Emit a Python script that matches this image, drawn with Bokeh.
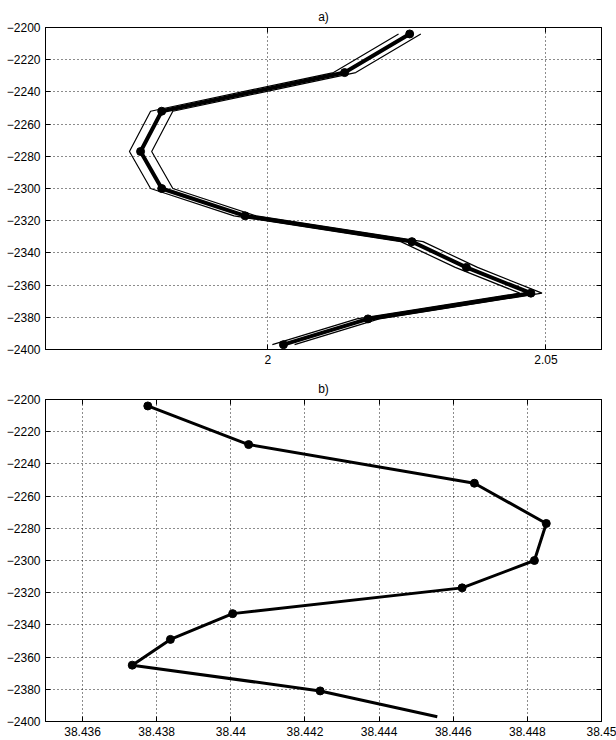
from bokeh.plotting import figure
from bokeh.layouts import column
from bokeh.models import FixedTicker, LinearAxis, Range1d
from bokeh.embed import file_html
from bokeh.resources import INLINE

# ---- data ----
depth = [-2204, -2228, -2252, -2277, -2300, -2317, -2333, -2349, -2365, -2381, -2397]
a_center = [2.0255, 2.0138, 1.9809, 1.9771, 1.9809, 1.9959, 2.0259, 2.0357, 2.0473, 2.0180, 2.0028]
a_left = [2.0235, 2.0118, 1.9789, 1.9751, 1.9789, 1.9939, 2.0239, 2.0337, 2.0453, 2.0160, 2.0008]
a_right = [2.0275, 2.0158, 1.9829, 1.9791, 1.9829, 1.9979, 2.0279, 2.0377, 2.0493, 2.0200, 2.0048]
b_lon = [38.43776, 38.44048, 38.44657, 38.44851, 38.44819, 38.44624, 38.44005, 38.43837, 38.43734, 38.44241, 38.44557]
b_marker_count = 10

a_xticks = [2.0, 2.05]
a_xlabels = ["2", "2.05"]
b_xticks = [38.436, 38.438, 38.44, 38.442, 38.444, 38.446, 38.448, 38.45]
b_xlabels = ["38.436", "38.438", "38.44", "38.442", "38.444", "38.446", "38.448", "38.45"]
yticks = [-2200, -2220, -2240, -2260, -2280, -2300, -2320, -2340, -2360, -2380, -2400]
ylabels = ["\u22122200", "\u22122220", "\u22122240", "\u22122260", "\u22122280", "\u22122300",
           "\u22122320", "\u22122340", "\u22122360", "\u22122380", "\u22122400"]

FONT = "Liberation Sans"


def box_axis(ticks):
    ax = LinearAxis(ticker=FixedTicker(ticks=ticks), major_tick_in=5, major_tick_out=0,
                    minor_tick_line_color=None, major_label_standoff=0,
                    axis_line_color="black", major_tick_line_color="black")
    ax.major_label_overrides = {t: "" for t in ticks}
    return ax


def make_fig(title, xr, xticks, xlabels, top_border, bottom_border, height):
    p = figure(width=616, height=height, output_backend="svg", toolbar_location=None,
               x_range=Range1d(*xr), y_range=Range1d(-2400, -2200),
               min_border_left=45, min_border_right=15,
               min_border_top=top_border, min_border_bottom=bottom_border)
    p.title.text = title
    p.title.align = "center"
    p.title.text_font = FONT
    p.title.text_font_size = "12px"
    p.title.text_font_style = "normal"
    p.title.text_color = "black"
    p.title.standoff = 8
    p.outline_line_color = "black"
    p.outline_line_width = 1
    p.background_fill_color = "white"
    p.border_fill_color = "white"

    p.xaxis.ticker = FixedTicker(ticks=xticks)
    p.xaxis.major_label_overrides = dict(zip(xticks, xlabels))
    p.yaxis.ticker = FixedTicker(ticks=yticks)
    p.yaxis.major_label_overrides = dict(zip(yticks, ylabels))
    for ax in (p.xaxis[0], p.yaxis[0]):
        ax.major_tick_in = 5
        ax.major_tick_out = 0
        ax.minor_tick_line_color = None
        ax.axis_line_color = "black"
        ax.major_tick_line_color = "black"
        ax.major_label_text_font = FONT
        ax.major_label_text_font_size = "12px"
        ax.major_label_text_color = "black"
        ax.major_label_standoff = 5

    p.add_layout(box_axis(xticks), "above")
    p.add_layout(box_axis(yticks), "right")

    for g in (p.xgrid[0], p.ygrid[0]):
        g.grid_line_color = "black"
        g.grid_line_dash = "1 3"
        g.grid_line_width = 1
        g.grid_line_alpha = 0.9
    return p


p1 = make_fig("a)", (1.96, 2.06), a_xticks, a_xlabels, 27, 23, 372)
p1.line(a_left, depth, line_color="black", line_width=1.2)
p1.line(a_right, depth, line_color="black", line_width=1.2)
p1.line(a_center, depth, line_color="black", line_width=4)
p1.scatter(a_center, depth, size=8, color="black")

p2 = make_fig("b)", (38.435, 38.45), b_xticks, b_xlabels, 27, 19, 368)
p2.line(b_lon, depth, line_color="black", line_width=3)
p2.scatter(b_lon[:b_marker_count], depth[:b_marker_count], size=8, color="black")

layout = column(p1, p2, spacing=0)
open("out.html", "w").write(file_html(layout, INLINE))
